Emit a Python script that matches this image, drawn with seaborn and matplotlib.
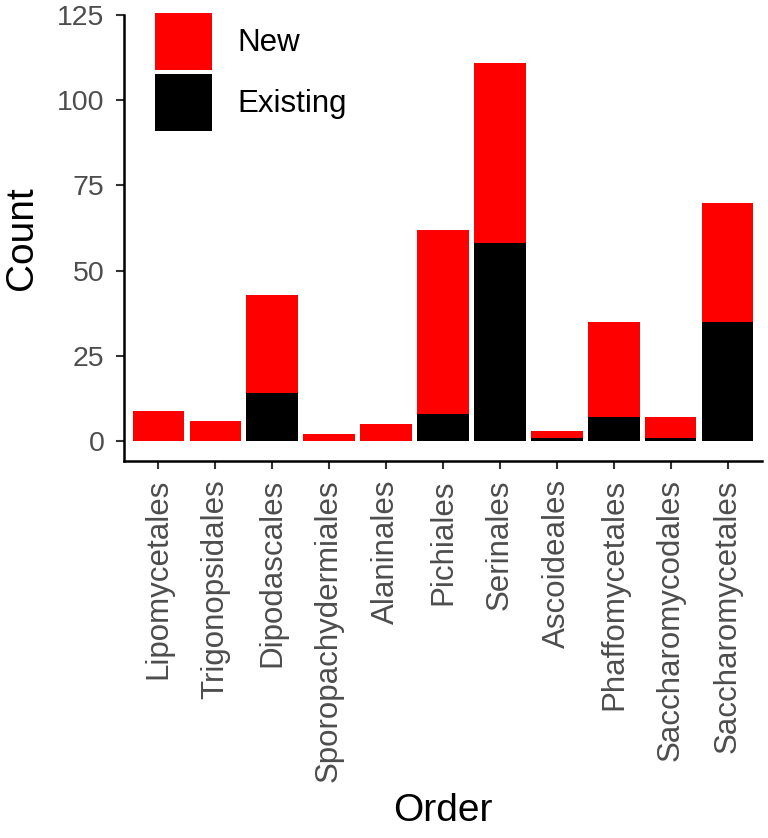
import numpy as np
import pandas as pd
import matplotlib
matplotlib.use("Agg")
import matplotlib.pyplot as plt
import seaborn as sns

# counts per order
orders = ['Lipomycetales', 'Trigonopsidales', 'Dipodascales', 'Sporopachydermiales',
          'Alaninales', 'Pichiales', 'Serinales', 'Ascoideales', 'Phaffomycetales',
          'Saccharomycodales', 'Saccharomycetales']
existing = [0, 0, 14, 0, 0, 8, 58, 1, 7, 1, 35]
new = [9, 6, 29, 2, 5, 54, 53, 2, 28, 6, 35]

df = pd.DataFrame({'Order': orders, 'Existing': existing, 'New': new})
df['Total'] = df['Existing'] + df['New']

sns.set_style("white")
plt.rcParams['font.family'] = ['Liberation Sans', 'DejaVu Sans']
plt.rcParams['text.color'] = 'black'
plt.rcParams['axes.labelcolor'] = 'black'

fig = plt.figure(figsize=(7.68, 8.38), dpi=100)
ax = fig.add_axes([124 / 768, 1 - 461 / 838, 638 / 768, 446 / 838])

# stacked: total in red, existing drawn over it in black
sns.barplot(data=df, x='Order', y='Total', order=orders, color='#FF0000',
            width=0.9, saturation=1, linewidth=0, label='New', ax=ax)
sns.barplot(data=df, x='Order', y='Existing', order=orders, color='black',
            width=0.9, saturation=1, linewidth=0, label='Existing', ax=ax)

ax.set_xlim(-0.6, 10.6)
ax.set_ylim(-5.8, 125)
ax.set_yticks([0, 25, 50, 75, 100, 125])

for s in ['top', 'right']:
    ax.spines[s].set_visible(False)
for s in ['left', 'bottom']:
    ax.spines[s].set_linewidth(1.8)
    ax.spines[s].set_color('black')

ax.tick_params(axis='both', bottom=True, left=True, length=6, width=1.5,
               color='#333333', labelcolor='#4D4D4D')
ax.tick_params(axis='x', labelrotation=90, labelsize=22.5, pad=7)
ax.tick_params(axis='y', labelsize=20.5, pad=8)

ax.set_xlabel('Order', fontsize=28, labelpad=8, color='black')
ax.set_ylabel('Count', fontsize=28, labelpad=12, color='black')

leg = ax.legend(loc='upper left', bbox_to_anchor=(0.0486, 1.0045), frameon=False,
                fontsize=22.5, handlelength=1.82, handleheight=2.43, labelspacing=0.13,
                handletextpad=0.8, borderpad=0, borderaxespad=0)
for t in leg.get_texts():
    t.set_color('black')

fig.savefig('out.png', dpi=100)
